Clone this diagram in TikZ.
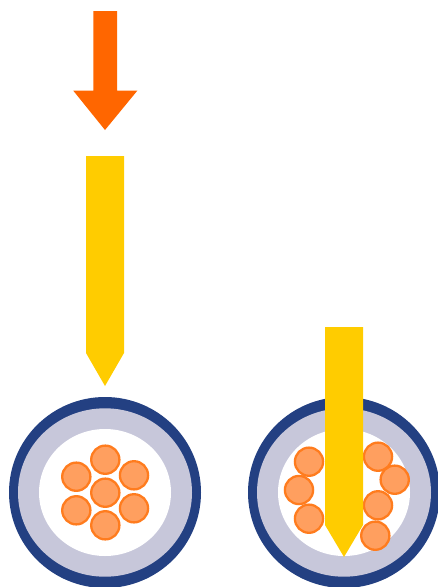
\documentclass[tikz,border=0pt]{standalone}
\usepackage{xcolor}
\usepackage{tikz}
\definecolor{cablenavy}{RGB}{35,64,130}
\definecolor{cablegrey}{RGB}{199,199,218}
\definecolor{pushorange}{RGB}{255,102,0}
\definecolor{probeyellow}{RGB}{255,204,0}
\definecolor{strandfill}{RGB}{255,159,95}
\definecolor{strandline}{RGB}{255,124,30}

\begin{document}
\begin{tikzpicture}[x=1pt, y=-1pt,
  strand/.style={circle, draw=strandline, fill=strandfill, line width=2.3pt, inner sep=0pt, minimum size=28.2pt},
  probe/.style={fill=probeyellow},
  push/.style={fill=pushorange}]
  \useasboundingbox (0,0) rectangle (437,587);
  % cable sections
  \foreach \c/\y in {105/492.5, 344/492.5} {
    \fill[cablenavy] (\c,\y) ellipse [x radius=96, y radius=95.5];
    \fill[cablegrey] (\c,\y) ellipse [x radius=87, y radius=84.2];
    \fill[white] (\c,\y) ellipse [x radius=66, y radius=63.5];
  }
  % strands, left cable
  \foreach \n/\x/\y in {a/105.3/459.7, b/76.3/476.7, c/134/475.3, d/105.3/492.7, e/76.3/510.3, f/134/508.3, g/105.3/525.3}
    \node[strand] (l\n) at (\x,\y) {};
  % strands, right cable
  \foreach \n/\x/\y in {a/309/461.7, b/299/490, c/309/518.7, d/378/456.7, e/394.7/479.7, f/378/505.3, g/375.3/535.7}
    \node[strand] (r\n) at (\x,\y) {};
  % arrows
  \fill[push] (93.3,11) -- (117,11) -- (117,90.7) -- (137.3,90.7) -- (105,130) -- (73.3,90.7) -- (93.3,90.7) -- cycle;
  \fill[probe] (86,156) -- (124,156) -- (124,353) -- (105,386) -- (86,353) -- cycle;
  \fill[probe] (325,327) -- (363,327) -- (363,525) -- (344,557) -- (325,525) -- cycle;
\end{tikzpicture}
\end{document}
